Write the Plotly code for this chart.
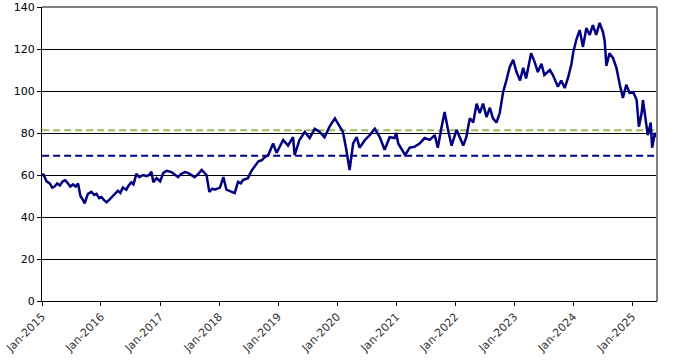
import plotly.graph_objects as go

dates = [
    "2015-01-02", "2015-01-09", "2015-01-29", "2015-02-18", "2015-03-05", "2015-03-20", "2015-04-05",
    "2015-04-21", "2015-05-10", "2015-05-25", "2015-06-10", "2015-06-25", "2015-07-12", "2015-07-28",
    "2015-08-12", "2015-08-27", "2015-09-12", "2015-09-22", "2015-10-12", "2015-11-03", "2015-11-20",
    "2015-12-04", "2015-12-20",
    "2016-01-04", "2016-01-20", "2016-02-05", "2016-02-25", "2016-03-15", "2016-04-15", "2016-04-30",
    "2016-05-15", "2016-06-06", "2016-06-20", "2016-07-07", "2016-07-20", "2016-08-07", "2016-08-25",
    "2016-09-18", "2016-10-08", "2016-10-25", "2016-11-08", "2016-11-20", "2016-12-10",
    "2017-01-01", "2017-01-21", "2017-02-10", "2017-03-12", "2017-04-05", "2017-04-22", "2017-05-10",
    "2017-06-03", "2017-06-22", "2017-07-10", "2017-08-03", "2017-08-25", "2017-09-15", "2017-10-15",
    "2017-11-01", "2017-11-20", "2017-12-06",
    "2018-01-06", "2018-01-27", "2018-02-15", "2018-03-18", "2018-04-07", "2018-04-28", "2018-05-15",
    "2018-05-28", "2018-06-28", "2018-07-20", "2018-08-09", "2018-09-01", "2018-09-21", "2018-10-10",
    "2018-11-01", "2018-12-01", "2018-12-22",
    "2019-01-01", "2019-02-01", "2019-03-03", "2019-04-03", "2019-04-13", "2019-05-13", "2019-06-15",
    "2019-07-15", "2019-08-15", "2019-09-15", "2019-10-15", "2019-11-15", "2019-12-18",
    "2020-01-18", "2020-02-06", "2020-02-27", "2020-03-18", "2020-04-09", "2020-05-01", "2020-05-19",
    "2020-06-21", "2020-07-21", "2020-08-21", "2020-09-21", "2020-10-21", "2020-11-21", "2020-12-21",
    "2021-01-01", "2021-01-13", "2021-02-25", "2021-03-25", "2021-04-25", "2021-05-25", "2021-06-25",
    "2021-07-27", "2021-08-27", "2021-09-15", "2021-10-06", "2021-10-27", "2021-11-17", "2021-12-09",
    "2022-01-09", "2022-02-01", "2022-02-19", "2022-03-10", "2022-04-01", "2022-04-22", "2022-05-13",
    "2022-06-01", "2022-06-22", "2022-07-13", "2022-08-03", "2022-08-22", "2022-09-13", "2022-10-03",
    "2022-10-24", "2022-11-13", "2022-12-04", "2022-12-25",
    "2023-01-15", "2023-02-06", "2023-02-25", "2023-03-15", "2023-04-15", "2023-05-06", "2023-05-27",
    "2023-06-18", "2023-07-06", "2023-08-09", "2023-08-28", "2023-09-28", "2023-10-18", "2023-11-09",
    "2023-12-01", "2023-12-21",
    "2024-01-01", "2024-01-22", "2024-02-10", "2024-03-01", "2024-03-22", "2024-04-12", "2024-05-01",
    "2024-05-22", "2024-06-12", "2024-07-03", "2024-07-13", "2024-07-24", "2024-08-12", "2024-09-03",
    "2024-09-24", "2024-10-15", "2024-11-03", "2024-11-24", "2024-12-15",
    "2025-01-06", "2025-01-27", "2025-02-10", "2025-02-27", "2025-03-07", "2025-03-27", "2025-04-06",
    "2025-04-24", "2025-05-03", "2025-05-19", "2025-05-28",
]

values = [
    59.5, 60.5, 57, 56, 54, 54.5, 56,
    55, 57, 57.5, 56, 54.5, 55.5, 54.5,
    56, 50, 48, 46.5, 51, 52, 50.5,
    51, 49,
    49.5, 48, 47, 48.5, 50, 52.5, 51.5,
    54, 53, 55, 56.5, 55.5, 60.5, 59,
    60, 59.5, 60, 61.5, 56.5, 58.5,
    57, 61, 62, 61.4, 60, 59, 60.5,
    61.4, 61, 60, 59, 60.5, 62.4, 60,
    52, 53.5, 53,
    54, 59, 53, 52, 51.4, 56.7, 56,
    57.6, 58.5, 62, 64, 66.5, 67, 68.5,
    69.5, 75, 70.5,
    72, 76.7, 74, 78, 69.5, 76.7, 80.5,
    77.6, 82, 80.5, 78, 83, 87,
    83, 80.5, 72, 62.4, 75, 78, 73,
    76.7, 79, 82, 78, 72, 78, 77.6,
    80, 75, 69.5, 73, 73.5, 75, 77.6,
    76.7, 79, 73, 82, 90, 81.5, 74,
    81.5, 77.6, 74, 78, 87, 85, 94,
    89.5, 94, 87.6, 92, 87, 85, 89.5,
    99.5, 105, 111.5, 114.8,
    109, 105, 111, 106, 118, 114, 109,
    113, 107.6, 110, 107.6, 102, 105, 101.4,
    106.7, 113,
    118.6, 125, 129, 121, 130, 126.7, 131.4,
    126.7, 132.4, 128, 124, 112, 118, 115.7,
    111, 103, 96.7, 103, 99,
    99.5, 95.7, 83, 89.5, 95.7, 86, 79,
    85, 73, 80, 78,
]

upper_level = 81.3
lower_level = 69.2

y_ticks = [0, 20, 40, 60, 80, 100, 120, 140]
x_tick_dates = ["2015-01-01", "2016-01-01", "2017-01-01", "2018-01-01", "2019-01-01", "2020-01-01",
                "2021-01-01", "2022-01-01", "2023-01-01", "2024-01-01", "2025-01-01"]
x_tick_labels = ["Jan-2015", "Jan-2016", "Jan-2017", "Jan-2018", "Jan-2019", "Jan-2020",
                 "Jan-2021", "Jan-2022", "Jan-2023", "Jan-2024", "Jan-2025"]

x_start = "2015-01-01"
x_end = "2025-06-02"

fig = go.Figure()

fig.add_trace(go.Scatter(
    x=[dates[0], dates[-1]], y=[upper_level, upper_level], mode="lines",
    line=dict(color="#9BBB59", width=2, dash="7px,4px"), hoverinfo="skip", showlegend=False))
fig.add_trace(go.Scatter(
    x=[dates[0], dates[-1]], y=[lower_level, lower_level], mode="lines",
    line=dict(color="#000080", width=2, dash="7px,4px"), hoverinfo="skip", showlegend=False))
fig.add_trace(go.Scatter(
    x=dates, y=values, mode="lines",
    line=dict(color="#000080", width=2.5), showlegend=False))

# gray top / right frame
fig.add_shape(type="line", xref="paper", yref="paper", x0=0, x1=1, y0=1, y1=1,
              line=dict(color="#808080", width=2), layer="above")
fig.add_shape(type="line", xref="paper", yref="paper", x0=1, x1=1, y0=0, y1=1,
              line=dict(color="#808080", width=2), layer="above")

fig.update_layout(
    width=677, height=360,
    margin=dict(l=42, r=20, t=7, b=59),
    paper_bgcolor="white", plot_bgcolor="white",
    font=dict(family="DejaVu Sans", size=11, color="black"),
    xaxis=dict(
        type="date", range=[x_start, x_end], automargin=False,
        tickvals=x_tick_dates, ticktext=x_tick_labels, tickangle=-45,
        ticks="outside", ticklen=4, tickcolor="black",
        showline=True, linecolor="black", linewidth=1,
        showgrid=False, zeroline=False,
        tickfont=dict(family="DejaVu Sans", size=11, color="#333333"),
    ),
    yaxis=dict(
        range=[0, 140], tickvals=y_ticks, automargin=False,
        ticks="outside", ticklen=4, tickcolor="black",
        showline=True, linecolor="black", linewidth=1,
        showgrid=True, gridcolor="black", gridwidth=1,
        zeroline=False,
        tickfont=dict(family="DejaVu Sans", size=11, color="black"),
    ),
)

fig.write_html(
    "out.html",
    config={"displayModeBar": False},
    post_script="document.body.style.margin='0px';document.body.style.padding='0px';",
)
